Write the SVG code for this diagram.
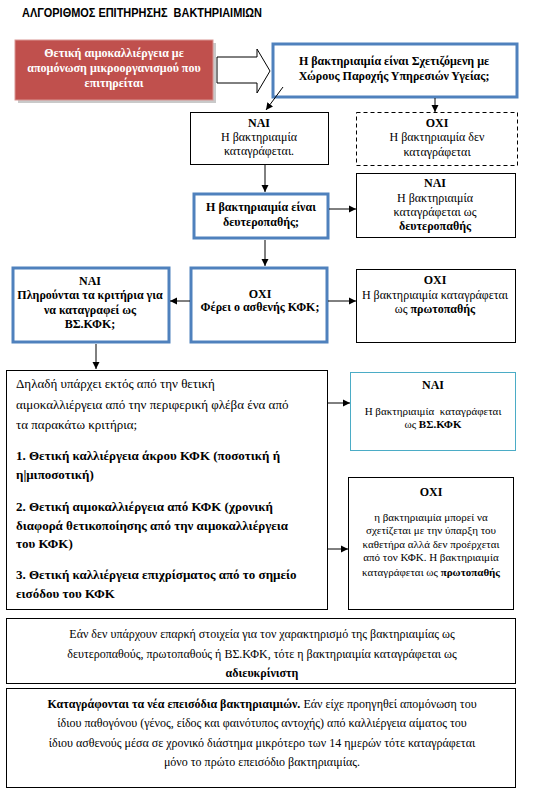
<svg xmlns="http://www.w3.org/2000/svg" width="545" height="793" viewBox="0 0 545 793">
<defs>
<marker id="ah" markerWidth="8" markerHeight="8" refX="7" refY="4" orient="auto" markerUnits="userSpaceOnUse">
<path d="M0,0.5 L7,4 L0,7.5 Z" fill="#000"/>
</marker>
<style>
text{font-family:"Liberation Serif","Times New Roman",serif;font-size:12px;fill:#000}
.c{text-anchor:middle}
.b{font-weight:bold}
.s{font-size:11px}
.m{font-size:13px}
.w{fill:#fff;font-weight:bold}
.box{fill:#fff;stroke:#000;stroke-width:1}
.blue{fill:#fff;stroke:#4f81bd;stroke-width:3}
.dash{fill:#fff;stroke:#000;stroke-width:1;stroke-dasharray:4,3}
.teal{fill:#fff;stroke:#4bacc6;stroke-width:1}
.ln{stroke:#000;stroke-width:1;fill:none;marker-end:url(#ah)}
</style>
</defs>
<rect width="545" height="793" fill="#fff"/>
<text x="22" y="17" style="font-family:'Liberation Sans',Arial,sans-serif;font-weight:bold;font-size:12px" textLength="240" lengthAdjust="spacingAndGlyphs" xml:space="preserve">ΑΛΓΟΡΙΘΜΟΣ ΕΠΙΤΗΡΗΣΗΣ  ΒΑΚΤΗΡΙΑΙΜΙΩΝ</text>

<g id="start">
<rect x="18" y="43" width="198" height="60" fill="#c9c9c9"/>
<rect x="15" y="40" width="198" height="60" fill="#c0504d" stroke="#d99694" stroke-width="1"/>
<text class="c w" x="114" y="57">Θετική αιμοκαλλιέργεια με</text>
<text class="c w" x="114" y="72">απομόνωση μικροοργανισμού που</text>
<text class="c w" x="114" y="87">επιτηρείται</text>
</g>

<g id="q1">
<rect class="blue" x="273" y="44" width="244" height="53"/>
<text class="c b" x="394" y="65">Η βακτηριαιμία είναι Σχετιζόμενη με</text>
<text class="c b" x="394" y="80">Χώρους Παροχής Υπηρεσιών Υγείας;</text>
</g>

<g id="yes1">
<rect class="box" x="190.5" y="112.5" width="138" height="52"/>
<text class="c b" x="259" y="127">ΝΑΙ</text>
<text class="c" x="259" y="141">Η βακτηριαιμία</text>
<text class="c" x="259" y="155">καταγράφεται.</text>
</g>

<g id="no1">
<rect class="dash" x="356.5" y="112.5" width="161" height="53"/>
<text class="c b" x="437" y="127">ΟΧΙ</text>
<text class="c" x="437" y="141">Η βακτηριαιμία δεν</text>
<text class="c" x="437" y="156">καταγράφεται</text>
</g>

<g id="q2">
<rect class="blue" x="194" y="194" width="134" height="44"/>
<text class="c b" x="261" y="211">Η βακτηριαιμία είναι</text>
<text class="c b" x="261" y="226">δευτεροπαθής;</text>
</g>

<g id="yes2">
<rect class="box" x="356.5" y="173.5" width="159" height="64"/>
<text class="c b" x="435" y="187">ΝΑΙ</text>
<text class="c" x="435" y="202">Η βακτηριαιμία</text>
<text class="c" x="435" y="216">καταγράφεται ως</text>
<text class="c b" x="435" y="230">δευτεροπαθής</text>
</g>

<g id="q3">
<rect class="blue" x="13" y="268" width="156" height="74"/>
<text class="c b" x="90" y="285">ΝΑΙ</text>
<text class="c b" x="90" y="299">Πληρούνται τα κριτήρια για</text>
<text class="c b" x="90" y="314">να καταγραφεί ως</text>
<text class="c b" x="90" y="328">ΒΣ.ΚΦΚ;</text>
</g>

<g id="q4">
<rect class="blue" x="191" y="268" width="136" height="74"/>
<text class="c b" x="260" y="298">ΟΧΙ</text>
<text class="c b" x="260" y="311">Φέρει ο ασθενής ΚΦΚ;</text>
</g>

<g id="no2">
<rect class="box" x="356.5" y="269.5" width="159" height="73"/>
<text class="c b" x="435" y="284">ΟΧΙ</text>
<text class="c" x="435" y="299">Η βακτηριαιμία καταγράφεται</text>
<text class="c" x="435" y="313">ως <tspan class="b">πρωτοπαθής</tspan></text>
</g>

<g id="criteria">
<rect class="box" x="6.5" y="370.5" width="321" height="239"/>
<text class="m" x="16" y="388">Δηλαδή υπάρχει εκτός από την θετική</text>
<text class="m" x="16" y="409">αιμοκαλλιέργεια από την περιφερική φλέβα ένα από</text>
<text class="m" x="16" y="429">τα παρακάτω κριτήρια;</text>
<text class="m b" x="16" y="460">1. Θετική καλλιέργεια άκρου ΚΦΚ (ποσοτική ή</text>
<text class="m b" x="16" y="479">η|μιποσοτική)</text>
<text class="m b" x="16" y="511">2. Θετική αιμοκαλλιέργεια από ΚΦΚ (χρονική</text>
<text class="m b" x="16" y="530">διαφορά θετικοποίησης από την αιμοκαλλιέργεια</text>
<text class="m b" x="16" y="548">του ΚΦΚ)</text>
<text class="m b" x="16" y="579">3. Θετική καλλιέργεια επιχρίσματος από το σημείο</text>
<text class="m b" x="16" y="598">εισόδου του ΚΦΚ</text>
</g>

<g id="yes3">
<rect class="teal" x="350.5" y="372.5" width="165" height="78"/>
<text class="c b" x="433" y="389">ΝΑΙ</text>
<text class="c s" x="433" y="415" xml:space="preserve">Η βακτηριαιμία  καταγράφεται</text>
<text class="c s" x="433" y="428">ως <tspan class="b">ΒΣ.ΚΦΚ</tspan></text>
</g>

<g id="no3">
<rect class="box" x="348.5" y="477.5" width="165" height="132"/>
<text class="c b" x="431" y="496">ΟΧΙ</text>
<text class="c s" x="431" y="521">η βακτηριαιμία μπορεί να</text>
<text class="c s" x="431" y="534">σχετίζεται με την ύπαρξη του</text>
<text class="c s" x="431" y="548">καθετήρα αλλά δεν προέρχεται</text>
<text class="c s" x="431" y="561">από τον ΚΦΚ. Η βακτηριαιμία</text>
<text class="c s" x="431" y="576">καταγράφεται ως <tspan class="b">πρωτοπαθής</tspan></text>
</g>

<g id="note1">
<rect class="box" x="6.5" y="618.5" width="509" height="65"/>
<text class="c" x="262" y="638">Εάν δεν υπάρχουν επαρκή στοιχεία για τον χαρακτηρισμό  της βακτηριαιμίας ως</text>
<text class="c" x="262" y="658">δευτεροπαθούς, πρωτοπαθούς ή ΒΣ.ΚΦΚ,  τότε η βακτηριαιμία καταγράφεται  ως</text>
<text class="c b" x="262" y="677">αδιευκρίνιστη</text>
</g>

<g id="note2">
<rect class="box" x="6.5" y="688.5" width="509" height="99"/>
<text class="c" x="262" y="708"><tspan class="b">Καταγράφονται τα νέα επεισόδια βακτηριαιμιών.</tspan> Εάν είχε προηγηθεί απομόνωση του</text>
<text class="c" x="262" y="727">ίδιου παθογόνου (γένος, είδος και φαινότυπος αντοχής) από καλλιέργεια αίματος του</text>
<text class="c" x="262" y="747">ίδιου ασθενούς μέσα σε χρονικό διάστημα μικρότερο των 14 ημερών τότε καταγράφεται</text>
<text class="c" x="262" y="766">μόνο το πρώτο επεισόδιο βακτηριαιμίας.</text>
</g>

<g id="connectors">
<polygon points="217,57 257,57 257,49 270,71 257,93 257,83 217,83" fill="#fff" stroke="#000" stroke-width="1"/>
<line class="ln" x1="283" y1="87" x2="266" y2="110"/>
<line class="ln" x1="435" y1="98" x2="435" y2="112"/>
<line class="ln" x1="265" y1="165" x2="265" y2="192"/>
<line class="ln" x1="329" y1="209" x2="356" y2="209"/>
<line class="ln" x1="265" y1="240" x2="265" y2="266"/>
<line class="ln" x1="190" y1="301" x2="170" y2="301"/>
<line class="ln" x1="328" y1="301" x2="356" y2="301"/>
<line class="ln" x1="96" y1="344" x2="96" y2="369"/>
<line class="ln" x1="328" y1="403" x2="350" y2="403"/>
<line class="ln" x1="328" y1="549" x2="348" y2="549"/>
</g>
</svg>
